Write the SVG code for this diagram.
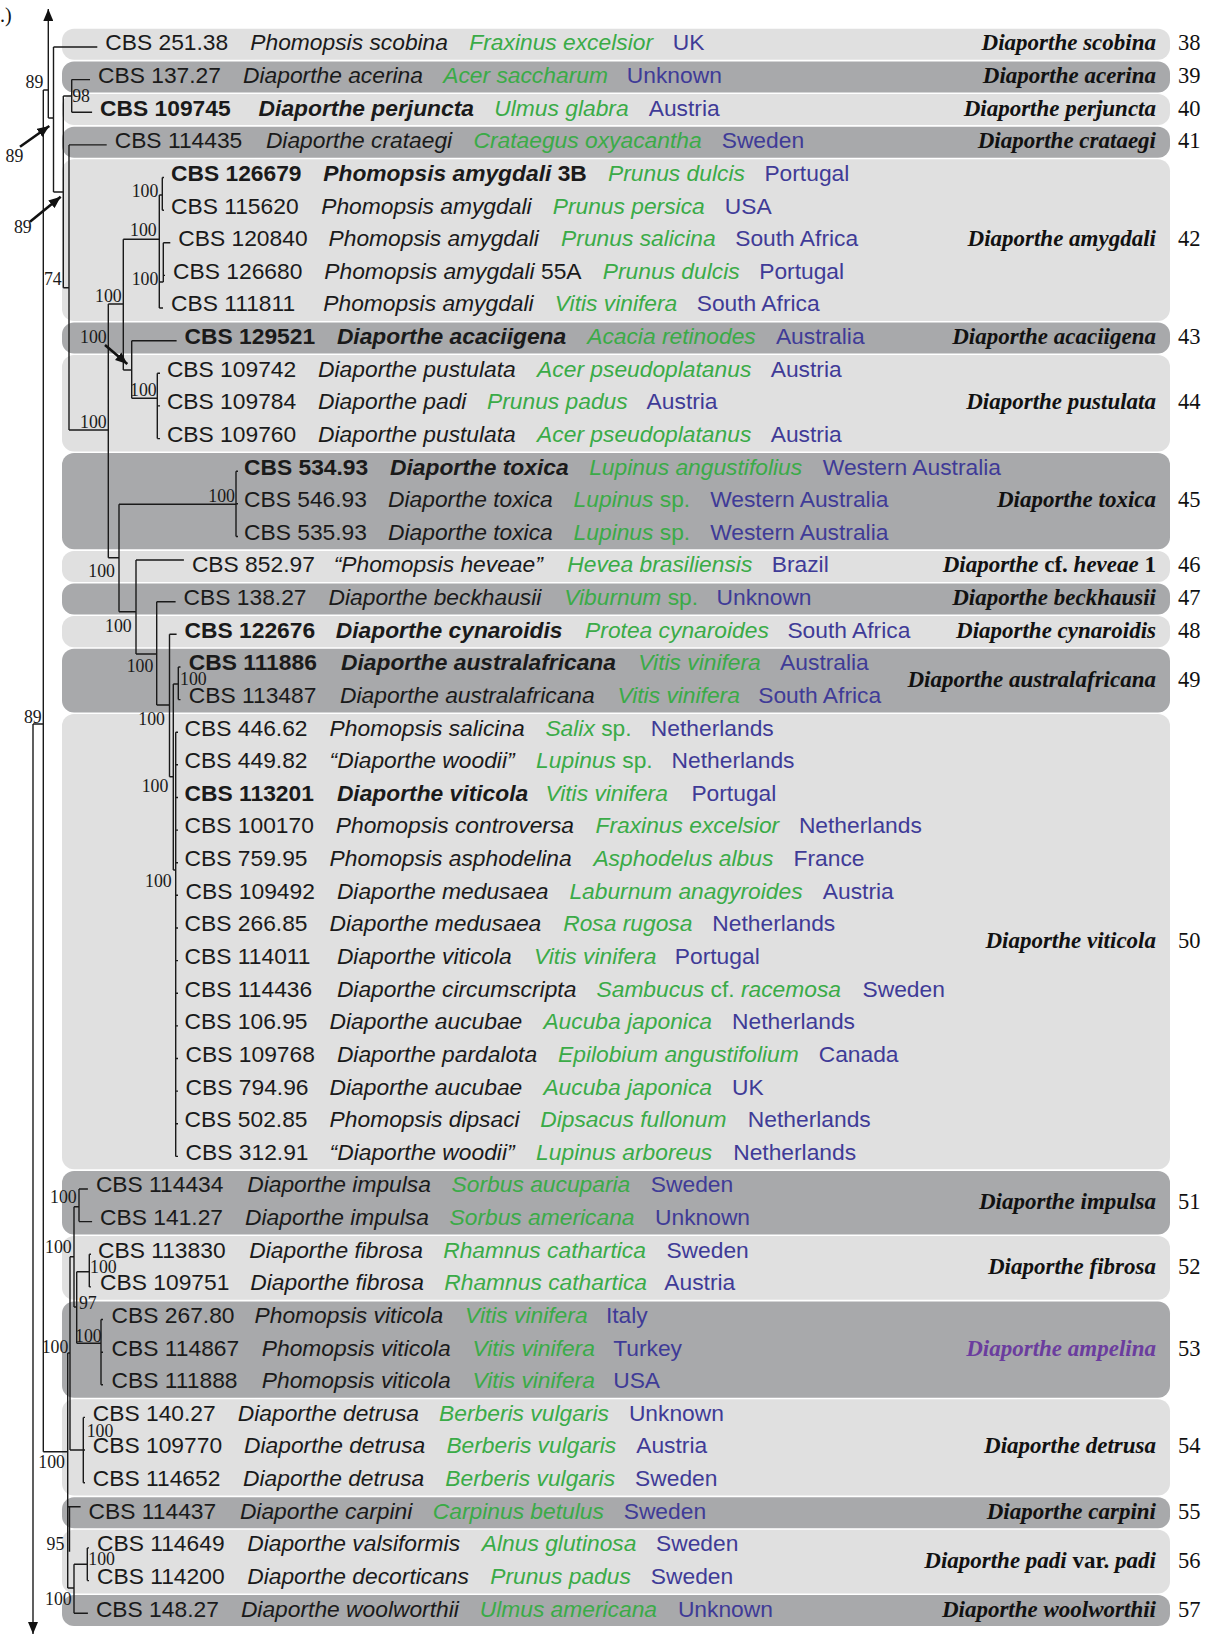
<svg xmlns="http://www.w3.org/2000/svg" width="1215" height="1635" viewBox="0 0 1215 1635">
<defs>
<style>
.a{font-family:"Liberation Sans",Arial,sans-serif;font-size:22.8px;fill:#1a1a1a}
.i{font-style:italic}
.b{font-weight:bold}
.g{fill:#3aab47}
.k{fill:#3f3b97}
.u{font-style:normal}
.L{font-family:"Liberation Serif","Times New Roman",serif;font-size:23px;font-weight:bold;font-style:italic;text-anchor:end;fill:#111}
.N{font-family:"Liberation Serif","Times New Roman",serif;font-size:22.5px;fill:#111}
.sv{font-family:"Liberation Serif","Times New Roman",serif;font-size:17.8px;fill:#1a1a1a;text-anchor:end}
.lt{fill:#e0e0e0}
.dk{fill:#a8a9ab}
.br{fill:none;stroke:#1a1a1a;stroke-width:1.4}
.ar{fill:none;stroke:#111;stroke-width:2.6}
</style>
<marker id="ah" markerUnits="userSpaceOnUse" markerWidth="12" markerHeight="10" refX="12" refY="5" orient="auto" viewBox="0 0 12 10">
<path d="M0 0L12 5L0 10z" fill="#111"/>
</marker>
</defs>
<rect width="1215" height="1635" fill="#fff"/>
<text x="0" y="22" font-family="Liberation Serif, serif" font-size="20" fill="#111">.)</text>

<g id="bands">
<g id="clade-38"><rect class="lt" x="62" y="28.8" width="1108" height="31" rx="12"/><text class="L" x="1156" y="50.3">Diaporthe scobina</text><text class="N" x="1178" y="50.3">38</text></g>
<g id="clade-39"><rect class="dk" x="62" y="61.4" width="1108" height="31.1" rx="12"/><text class="L" x="1156" y="82.9">Diaporthe acerina</text><text class="N" x="1178" y="82.9">39</text></g>
<g id="clade-40"><rect class="lt" x="62" y="94.1" width="1108" height="31" rx="12"/><text class="L" x="1156" y="115.6">Diaporthe perjuncta</text><text class="N" x="1178" y="115.6">40</text></g>
<g id="clade-41"><rect class="dk" x="62" y="126.7" width="1108" height="31" rx="12"/><text class="L" x="1156" y="148.2">Diaporthe crataegi</text><text class="N" x="1178" y="148.2">41</text></g>
<g id="clade-42"><rect class="lt" x="62" y="159.3" width="1108" height="161.6" rx="12"/><text class="L" x="1156" y="246.1">Diaporthe amygdali</text><text class="N" x="1178" y="246.1">42</text></g>
<g id="clade-43"><rect class="dk" x="62" y="322.5" width="1108" height="31" rx="12"/><text class="L" x="1156" y="344">Diaporthe acaciigena</text><text class="N" x="1178" y="344">43</text></g>
<g id="clade-44"><rect class="lt" x="62" y="355.1" width="1108" height="96.3" rx="12"/><text class="L" x="1156" y="409.2">Diaporthe pustulata</text><text class="N" x="1178" y="409.2">44</text></g>
<g id="clade-45"><rect class="dk" x="62" y="453" width="1108" height="96.3" rx="12"/><text class="L" x="1156" y="507.1">Diaporthe toxica</text><text class="N" x="1178" y="507.1">45</text></g>
<g id="clade-46"><rect class="lt" x="62" y="550.9" width="1108" height="31" rx="12"/><text class="L" x="1156" y="572.4">Diaporthe <tspan class="u">cf.</tspan> heveae <tspan class="u">1</tspan></text><text class="N" x="1178" y="572.4">46</text></g>
<g id="clade-47"><rect class="dk" x="62" y="583.5" width="1108" height="31" rx="12"/><text class="L" x="1156" y="605">Diaporthe beckhausii</text><text class="N" x="1178" y="605">47</text></g>
<g id="clade-48"><rect class="lt" x="62" y="616.1" width="1108" height="31.1" rx="12"/><text class="L" x="1156" y="637.6">Diaporthe cynaroidis</text><text class="N" x="1178" y="637.6">48</text></g>
<g id="clade-49"><rect class="dk" x="62" y="648.8" width="1108" height="63.6" rx="12"/><text class="L" x="1156" y="686.6">Diaporthe australafricana</text><text class="N" x="1178" y="686.6">49</text></g>
<g id="clade-50"><rect class="lt" x="62" y="714" width="1108" height="455.3" rx="12"/><text class="L" x="1156" y="947.6">Diaporthe viticola</text><text class="N" x="1178" y="947.6">50</text></g>
<g id="clade-51"><rect class="dk" x="62" y="1170.9" width="1108" height="63.6" rx="12"/><text class="L" x="1156" y="1208.7">Diaporthe impulsa</text><text class="N" x="1178" y="1208.7">51</text></g>
<g id="clade-52"><rect class="lt" x="62" y="1236.1" width="1108" height="63.7" rx="12"/><text class="L" x="1156" y="1273.9">Diaporthe fibrosa</text><text class="N" x="1178" y="1273.9">52</text></g>
<g id="clade-53"><rect class="dk" x="62" y="1301.4" width="1108" height="96.3" rx="12"/><text class="L" x="1156" y="1355.5" style="fill:#6b3d9e">Diaporthe ampelina</text><text class="N" x="1178" y="1355.5">53</text></g>
<g id="clade-54"><rect class="lt" x="62" y="1399.3" width="1108" height="96.3" rx="12"/><text class="L" x="1156" y="1453.4">Diaporthe detrusa</text><text class="N" x="1178" y="1453.4">54</text></g>
<g id="clade-55"><rect class="dk" x="62" y="1497.2" width="1108" height="31" rx="12"/><text class="L" x="1156" y="1518.7">Diaporthe carpini</text><text class="N" x="1178" y="1518.7">55</text></g>
<g id="clade-56"><rect class="lt" x="62" y="1529.8" width="1108" height="63.6" rx="12"/><text class="L" x="1156" y="1567.6">Diaporthe padi <tspan class="u">var.</tspan> padi</text><text class="N" x="1178" y="1567.6">56</text></g>
<g id="clade-57"><rect class="dk" x="62" y="1595" width="1108" height="31.1" rx="12"/><text class="L" x="1156" y="1616.5">Diaporthe woolworthii</text><text class="N" x="1178" y="1616.5">57</text></g>
</g>

<g id="connectors">
<path class="br" d="M43.3 90H48.3M48.3 118H53.5M53.5 47V192M53.5 47H97.3M53.5 192H63.3M63.3 96V287.7M63.3 96H71.7M71.7 79.6V112.3M71.7 79.6H90M71.7 112.3H92.1M63.3 287.7H69M69 144.9V430M69 144.9H106.7M69 430H108.3M108.3 304V557.7M108.3 304H123.3M123.3 239.3V370M123.3 239.3H159.3M159.3 195V308M159.3 195H162.3M162.3 177.5V210.2M162.3 177.5H164M162.3 210.2H164M159.3 282H163.3M163.3 242.8V282M163.3 242.8H170.3M163.3 275.4H165M159.3 308H163M123.3 370H131.7M131.7 340.7V398.3M131.7 340.7H176.6M131.7 398.3H157.3M157.3 373.3V438.6M157.3 373.3H160M157.3 405.9H160M157.3 438.6H160M108.3 557.7H119M119 504.3V611.7M119 504.3H236M236 471.2V536.5M236 471.2H238M236 503.8H238M236 536.5H238M119 611.7H136M136 560V654M136 560H183.9M136 654H156.7M156.7 601.7V705M156.7 601.7H175.6M156.7 705H169.5M169.5 634.3V776.7M169.5 634.3H176.6M169.5 776.7H173.3M173.3 684V870M173.3 684H178.3M178.3 667V699.6M178.3 667H180.5M178.3 699.6H180.5M173.3 870H175.7M175.7 732.2V1156.4M175.7 732.2H178M175.7 764.8H178M175.7 797.5H178M175.7 830.1H178M175.7 862.7H178M175.7 895.3H178M175.7 928H178M175.7 960.6H178M175.7 993.2H178M175.7 1025.9H178M175.7 1058.5H178M175.7 1091.1H178M175.7 1123.8H178M175.7 1156.4H178"/>
<path class="br" d="M33 724H43.3M43.3 90V1451.7M43.3 1451.7H67.7M67.7 1353V1588M67.7 1353H70M70 1256.7V1450M70 1256.7H74M74 1206.7V1307M74 1206.7H79M79 1189V1221.6M79 1189H87.9M79 1221.6H92.1M74 1307H76.7M76.7 1271.7V1343.3M76.7 1271.7H89.3M89.3 1254.3V1286.9M89.3 1254.3H91M89.3 1286.9H91M76.7 1343.3H101M101 1319.5V1384.8M101 1319.5H103M101 1352.2H103M101 1384.8H103M70 1450H83.3M83.3 1417.4V1482.7M83.3 1417.4H85M83.3 1450H85M83.3 1482.7H85M67.7 1506.7H80.6M69.5 1506.7V1551.7M67.7 1588H74M74 1564.3V1613.2M74 1564.3H87.3M87.3 1547.9V1580.6M87.3 1547.9H89M87.3 1580.6H89M74 1613.2H87.9"/>
<line class="br" x1="48.3" y1="118" x2="48.3" y2="9" marker-end="url(#ah)"/>
<line class="br" x1="33" y1="724" x2="33" y2="1634" marker-end="url(#ah)"/>
<line class="ar" x1="20" y1="146.7" x2="49.3" y2="126" marker-end="url(#ah)"/>
<line class="ar" x1="30" y1="221.7" x2="60.7" y2="196.7" marker-end="url(#ah)"/>
<line class="ar" x1="105" y1="345" x2="127.3" y2="364" marker-end="url(#ah)"/>
</g>

<g id="support">
<text class="sv" x="43.3" y="88">89</text>
<text class="sv" x="90" y="101.5">98</text>
<text class="sv" x="23.3" y="161.5">89</text>
<text class="sv" x="158.3" y="196.5">100</text>
<text class="sv" x="31.7" y="233">89</text>
<text class="sv" x="156.7" y="236">100</text>
<text class="sv" x="158.3" y="285">100</text>
<text class="sv" x="61.7" y="285">74</text>
<text class="sv" x="121.7" y="301.5">100</text>
<text class="sv" x="106.7" y="343">100</text>
<text class="sv" x="156.7" y="396">100</text>
<text class="sv" x="106.7" y="428">100</text>
<text class="sv" x="235" y="501.5">100</text>
<text class="sv" x="115" y="576.5">100</text>
<text class="sv" x="131.7" y="631.5">100</text>
<text class="sv" x="153.3" y="671.5">100</text>
<text class="sv" x="206.7" y="685">100</text>
<text class="sv" x="41.7" y="723">89</text>
<text class="sv" x="165" y="725">100</text>
<text class="sv" x="168.3" y="791.5">100</text>
<text class="sv" x="171.7" y="886.5">100</text>
<text class="sv" x="76.7" y="1203">100</text>
<text class="sv" x="71.7" y="1253">100</text>
<text class="sv" x="116.7" y="1273">100</text>
<text class="sv" x="96.7" y="1309">97</text>
<text class="sv" x="101.7" y="1341.5">100</text>
<text class="sv" x="68.3" y="1353">100</text>
<text class="sv" x="113.3" y="1436.5">100</text>
<text class="sv" x="65" y="1468">100</text>
<text class="sv" x="64.3" y="1550">95</text>
<text class="sv" x="115" y="1565">100</text>
<text class="sv" x="71.7" y="1605">100</text>
</g>

<g id="taxa">
<g id="t01"><text class="a" x="105.3" y="50.3">CBS 251.38</text><text class="a i" x="250.3" y="50.3">Phomopsis scobina</text><text class="a i g" x="469.3" y="50.3">Fraxinus excelsior</text><text class="a k" x="672.7" y="50.3">UK</text></g>
<g id="t02"><text class="a" x="98" y="82.9">CBS 137.27</text><text class="a i" x="243" y="82.9">Diaporthe acerina</text><text class="a i g" x="443.2" y="82.9">Acer saccharum</text><text class="a k" x="626.8" y="82.9">Unknown</text></g>
<g id="t03"><text class="a b" x="100.1" y="115.6">CBS 109745</text><text class="a i b" x="258.6" y="115.6">Diaporthe perjuncta</text><text class="a i g" x="494.3" y="115.6">Ulmus glabra</text><text class="a k" x="648.7" y="115.6">Austria</text></g>
<g id="t04"><text class="a" x="114.7" y="148.2">CBS 114435</text><text class="a i" x="265.9" y="148.2">Diaporthe crataegi</text><text class="a i g" x="473.5" y="148.2">Crataegus oxyacantha</text><text class="a k" x="721.7" y="148.2">Sweden</text></g>
<g id="t05"><text class="a b" x="171" y="180.8">CBS 126679</text><text class="a i b" x="323.3" y="180.8">Phomopsis amygdali<tspan class="u"> 3B</tspan></text><text class="a i g" x="608" y="180.8">Prunus dulcis</text><text class="a k" x="764.4" y="180.8">Portugal</text></g>
<g id="t06"><text class="a" x="171" y="213.5">CBS 115620</text><text class="a i" x="321.2" y="213.5">Phomopsis amygdali</text><text class="a i g" x="552.7" y="213.5">Prunus persica</text><text class="a k" x="724.8" y="213.5">USA</text></g>
<g id="t07"><text class="a" x="178.3" y="246.1">CBS 120840</text><text class="a i" x="328.5" y="246.1">Phomopsis amygdali</text><text class="a i g" x="561.1" y="246.1">Prunus salicina</text><text class="a k" x="735.2" y="246.1">South Africa</text></g>
<g id="t08"><text class="a" x="173.1" y="278.7">CBS 126680</text><text class="a i" x="324.3" y="278.7">Phomopsis amygdali<tspan class="u"> 55A</tspan></text><text class="a i g" x="602.8" y="278.7">Prunus dulcis</text><text class="a k" x="759.2" y="278.7">Portugal</text></g>
<g id="t09"><text class="a" x="171" y="311.3">CBS 111811</text><text class="a i" x="323.3" y="311.3">Phomopsis amygdali</text><text class="a i g" x="554.8" y="311.3">Vitis vinifera</text><text class="a k" x="696.7" y="311.3">South Africa</text></g>
<g id="t10"><text class="a b" x="184.6" y="344">CBS 129521</text><text class="a i b" x="336.9" y="344">Diaporthe acaciigena</text><text class="a i g" x="587.2" y="344">Acacia retinodes</text><text class="a k" x="775.9" y="344">Australia</text></g>
<g id="t11"><text class="a" x="166.9" y="376.6">CBS 109742</text><text class="a i" x="318.1" y="376.6">Diaporthe pustulata</text><text class="a i g" x="537.1" y="376.6">Acer pseudoplatanus</text><text class="a k" x="770.7" y="376.6">Austria</text></g>
<g id="t12"><text class="a" x="166.9" y="409.2">CBS 109784</text><text class="a i" x="318.1" y="409.2">Diaporthe padi</text><text class="a i g" x="487" y="409.2">Prunus padus</text><text class="a k" x="646.6" y="409.2">Austria</text></g>
<g id="t13"><text class="a" x="166.9" y="441.9">CBS 109760</text><text class="a i" x="318.1" y="441.9">Diaporthe pustulata</text><text class="a i g" x="537.1" y="441.9">Acer pseudoplatanus</text><text class="a k" x="770.7" y="441.9">Austria</text></g>
<g id="t14"><text class="a b" x="244" y="474.5">CBS 534.93</text><text class="a i b" x="390" y="474.5">Diaporthe toxica</text><text class="a i g" x="589.2" y="474.5">Lupinus angustifolius</text><text class="a k" x="822.8" y="474.5">Western Australia</text></g>
<g id="t15"><text class="a" x="244" y="507.1">CBS 546.93</text><text class="a i" x="388" y="507.1">Diaporthe toxica</text><text class="a i g" x="573.6" y="507.1">Lupinus<tspan class="u"> sp.</tspan></text><text class="a k" x="710.2" y="507.1">Western Australia</text></g>
<g id="t16"><text class="a" x="244" y="539.8">CBS 535.93</text><text class="a i" x="388" y="539.8">Diaporthe toxica</text><text class="a i g" x="573.6" y="539.8">Lupinus<tspan class="u"> sp.</tspan></text><text class="a k" x="710.2" y="539.8">Western Australia</text></g>
<g id="t17"><text class="a" x="191.9" y="572.4">CBS 852.97</text><text class="a i" x="333.7" y="572.4">“Phomopsis heveae”</text><text class="a i g" x="567.3" y="572.4">Hevea brasiliensis</text><text class="a k" x="771.7" y="572.4">Brazil</text></g>
<g id="t18"><text class="a" x="183.6" y="605">CBS 138.27</text><text class="a i" x="328.5" y="605">Diaporthe beckhausii</text><text class="a i g" x="564.2" y="605">Viburnum<tspan class="u"> sp.</tspan></text><text class="a k" x="716.5" y="605">Unknown</text></g>
<g id="t19"><text class="a b" x="184.6" y="637.6">CBS 122676</text><text class="a i b" x="335.8" y="637.6">Diaporthe cynaroidis</text><text class="a i g" x="585.1" y="637.6">Protea cynaroides</text><text class="a k" x="787.4" y="637.6">South Africa</text></g>
<g id="t20"><text class="a b" x="188.8" y="670.3">CBS 111886</text><text class="a i b" x="341" y="670.3">Diaporthe australafricana</text><text class="a i g" x="638.3" y="670.3">Vitis vinifera</text><text class="a k" x="780.1" y="670.3">Australia</text></g>
<g id="t21"><text class="a" x="188.8" y="702.9">CBS 113487</text><text class="a i" x="340" y="702.9">Diaporthe australafricana</text><text class="a i g" x="617.4" y="702.9">Vitis vinifera</text><text class="a k" x="758.2" y="702.9">South Africa</text></g>
<g id="t22"><text class="a" x="184.6" y="735.5">CBS 446.62</text><text class="a i" x="329.6" y="735.5">Phomopsis salicina</text><text class="a i g" x="545.4" y="735.5">Salix<tspan class="u"> sp.</tspan></text><text class="a k" x="650.8" y="735.5">Netherlands</text></g>
<g id="t23"><text class="a" x="184.6" y="768.2">CBS 449.82</text><text class="a i" x="329.6" y="768.2">“Diaporthe woodii”</text><text class="a i g" x="536.1" y="768.2">Lupinus<tspan class="u"> sp.</tspan></text><text class="a k" x="671.6" y="768.2">Netherlands</text></g>
<g id="t24"><text class="a b" x="184.6" y="800.8">CBS 113201</text><text class="a i b" x="336.9" y="800.8">Diaporthe viticola</text><text class="a i g" x="545.4" y="800.8">Vitis vinifera</text><text class="a k" x="691.4" y="800.8">Portugal</text></g>
<g id="t25"><text class="a" x="184.6" y="833.4">CBS 100170</text><text class="a i" x="335.8" y="833.4">Phomopsis controversa</text><text class="a i g" x="595.5" y="833.4">Fraxinus excelsior</text><text class="a k" x="798.9" y="833.4">Netherlands</text></g>
<g id="t26"><text class="a" x="184.6" y="866.1">CBS 759.95</text><text class="a i" x="329.6" y="866.1">Phomopsis asphodelina</text><text class="a i g" x="593.4" y="866.1">Asphodelus albus</text><text class="a k" x="793.6" y="866.1">France</text></g>
<g id="t27"><text class="a" x="185.6" y="898.7">CBS 109492</text><text class="a i" x="336.9" y="898.7">Diaporthe medusaea</text><text class="a i g" x="569.4" y="898.7">Laburnum anagyroides</text><text class="a k" x="822.8" y="898.7">Austria</text></g>
<g id="t28"><text class="a" x="184.6" y="931.3">CBS 266.85</text><text class="a i" x="329.6" y="931.3">Diaporthe medusaea</text><text class="a i g" x="563.2" y="931.3">Rosa rugosa</text><text class="a k" x="712.3" y="931.3">Netherlands</text></g>
<g id="t29"><text class="a" x="184.6" y="963.9">CBS 114011</text><text class="a i" x="336.9" y="963.9">Diaporthe viticola</text><text class="a i g" x="534" y="963.9">Vitis vinifera</text><text class="a k" x="674.8" y="963.9">Portugal</text></g>
<g id="t30"><text class="a" x="184.6" y="996.6">CBS 114436</text><text class="a i" x="336.9" y="996.6">Diaporthe circumscripta</text><text class="a i g" x="596.5" y="996.6">Sambucus<tspan class="u"> cf. </tspan>racemosa</text><text class="a k" x="862.5" y="996.6">Sweden</text></g>
<g id="t31"><text class="a" x="184.6" y="1029.2">CBS 106.95</text><text class="a i" x="329.6" y="1029.2">Diaporthe aucubae</text><text class="a i g" x="543.4" y="1029.2">Aucuba japonica</text><text class="a k" x="732.1" y="1029.2">Netherlands</text></g>
<g id="t32"><text class="a" x="185.6" y="1061.8">CBS 109768</text><text class="a i" x="336.9" y="1061.8">Diaporthe pardalota</text><text class="a i g" x="558" y="1061.8">Epilobium angustifolium</text><text class="a k" x="818.7" y="1061.8">Canada</text></g>
<g id="t33"><text class="a" x="185.6" y="1094.5">CBS 794.96</text><text class="a i" x="329.6" y="1094.5">Diaporthe aucubae</text><text class="a i g" x="543.4" y="1094.5">Aucuba japonica</text><text class="a k" x="732.1" y="1094.5">UK</text></g>
<g id="t34"><text class="a" x="184.6" y="1127.1">CBS 502.85</text><text class="a i" x="329.6" y="1127.1">Phomopsis dipsaci</text><text class="a i g" x="540.2" y="1127.1">Dipsacus fullonum</text><text class="a k" x="747.8" y="1127.1">Netherlands</text></g>
<g id="t35"><text class="a" x="185.6" y="1159.7">CBS 312.91</text><text class="a i" x="329.6" y="1159.7">“Diaporthe woodii”</text><text class="a i g" x="536.1" y="1159.7">Lupinus arboreus</text><text class="a k" x="733.2" y="1159.7">Netherlands</text></g>
<g id="t36"><text class="a" x="95.9" y="1192.4">CBS 114434</text><text class="a i" x="247.2" y="1192.4">Diaporthe impulsa</text><text class="a i g" x="451.6" y="1192.4">Sorbus aucuparia</text><text class="a k" x="650.8" y="1192.4">Sweden</text></g>
<g id="t37"><text class="a" x="100.1" y="1225">CBS 141.27</text><text class="a i" x="245.1" y="1225">Diaporthe impulsa</text><text class="a i g" x="449.5" y="1225">Sorbus americana</text><text class="a k" x="655" y="1225">Unknown</text></g>
<g id="t38"><text class="a" x="98" y="1257.6">CBS 113830</text><text class="a i" x="249.3" y="1257.6">Diaporthe fibrosa</text><text class="a i g" x="443.2" y="1257.6">Rhamnus cathartica</text><text class="a k" x="666.4" y="1257.6">Sweden</text></g>
<g id="t39"><text class="a" x="100.1" y="1290.2">CBS 109751</text><text class="a i" x="250.3" y="1290.2">Diaporthe fibrosa</text><text class="a i g" x="444.3" y="1290.2">Rhamnus cathartica</text><text class="a k" x="664.3" y="1290.2">Austria</text></g>
<g id="t40"><text class="a" x="111.6" y="1322.9">CBS 267.80</text><text class="a i" x="254.5" y="1322.9">Phomopsis viticola</text><text class="a i g" x="465.1" y="1322.9">Vitis vinifera</text><text class="a k" x="605.9" y="1322.9">Italy</text></g>
<g id="t41"><text class="a" x="111.6" y="1355.5">CBS 114867</text><text class="a i" x="261.8" y="1355.5">Phomopsis viticola</text><text class="a i g" x="472.4" y="1355.5">Vitis vinifera</text><text class="a k" x="613.2" y="1355.5">Turkey</text></g>
<g id="t42"><text class="a" x="111.6" y="1388.1">CBS 111888</text><text class="a i" x="261.8" y="1388.1">Phomopsis viticola</text><text class="a i g" x="472.4" y="1388.1">Vitis vinifera</text><text class="a k" x="613.2" y="1388.1">USA</text></g>
<g id="t43"><text class="a" x="92.8" y="1420.8">CBS 140.27</text><text class="a i" x="237.8" y="1420.8">Diaporthe detrusa</text><text class="a i g" x="439.1" y="1420.8">Berberis vulgaris</text><text class="a k" x="628.9" y="1420.8">Unknown</text></g>
<g id="t44"><text class="a" x="92.8" y="1453.4">CBS 109770</text><text class="a i" x="244" y="1453.4">Diaporthe detrusa</text><text class="a i g" x="446.4" y="1453.4">Berberis vulgaris</text><text class="a k" x="636.2" y="1453.4">Austria</text></g>
<g id="t45"><text class="a" x="92.8" y="1486">CBS 114652</text><text class="a i" x="243" y="1486">Diaporthe detrusa</text><text class="a i g" x="445.3" y="1486">Berberis vulgaris</text><text class="a k" x="635.1" y="1486">Sweden</text></g>
<g id="t46"><text class="a" x="88.6" y="1518.7">CBS 114437</text><text class="a i" x="239.9" y="1518.7">Diaporthe carpini</text><text class="a i g" x="432.8" y="1518.7">Carpinus betulus</text><text class="a k" x="623.7" y="1518.7">Sweden</text></g>
<g id="t47"><text class="a" x="97" y="1551.3">CBS 114649</text><text class="a i" x="247.2" y="1551.3">Diaporthe valsiformis</text><text class="a i g" x="481.8" y="1551.3">Alnus glutinosa</text><text class="a k" x="656" y="1551.3">Sweden</text></g>
<g id="t48"><text class="a" x="97" y="1583.9">CBS 114200</text><text class="a i" x="247.2" y="1583.9">Diaporthe decorticans</text><text class="a i g" x="490.2" y="1583.9">Prunus padus</text><text class="a k" x="650.8" y="1583.9">Sweden</text></g>
<g id="t49"><text class="a" x="95.9" y="1616.5">CBS 148.27</text><text class="a i" x="240.9" y="1616.5">Diaporthe woolworthii</text><text class="a i g" x="479.7" y="1616.5">Ulmus americana</text><text class="a k" x="677.9" y="1616.5">Unknown</text></g>
</g>
</svg>
